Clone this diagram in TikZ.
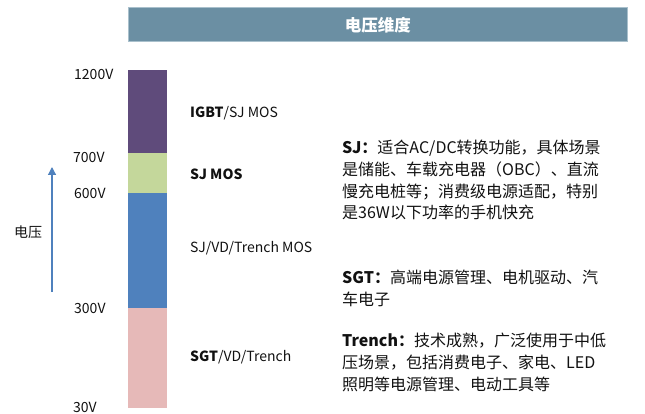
\documentclass[tikz,border=0pt]{standalone}
\usepackage{fontspec}
\setmainfont{Noto Sans CJK SC}
\usetikzlibrary{arrows.meta}
\definecolor{hdr}{HTML}{6B8FA3}
\definecolor{hdrline}{HTML}{A9C0CC}
\definecolor{segpurple}{HTML}{5F4B7B}
\definecolor{seggreen}{HTML}{C4D79B}
\definecolor{segblue}{HTML}{4F81BD}
\definecolor{segpink}{HTML}{E6B9B8}
\definecolor{txt}{HTML}{111111}
\tikzset{
  seg/.style={inner sep=0pt, outer sep=0pt, minimum width=39pt, anchor=north west, draw=none},
  vlabel/.style={anchor=west, inner sep=0pt, font=\fontsize{14}{16}\selectfont, text=txt},
  tlabel/.style={anchor=west, inner sep=0pt, font=\fontsize{14}{16}\selectfont, text=txt},
  para/.style={anchor=north west, inner sep=0pt, align=left, font=\fontsize{16}{21.7}\selectfont, text=txt},
}
\begin{document}
\begin{tikzpicture}[x=1pt,y=-1pt]
\useasboundingbox (0,0) rectangle (645,414);
% header
\node[draw=hdrline, fill=hdr, line width=0.6pt, minimum width=499pt, minimum height=34pt, inner sep=0pt, anchor=north west, text=white, font=\fontsize{16.5}{18}\selectfont\bfseries] (header) at (128,7.5) {电压维度};
% bar segments
\node[seg, fill=segpurple, minimum height=83pt] (s1) at (128,70) {};
\node[seg, fill=seggreen, minimum height=40pt] (s2) at (128,153) {};
\node[seg, fill=segblue, minimum height=115pt] (s3) at (128,193) {};
\node[seg, fill=segpink, minimum height=100pt] (s4) at (128,308) {};
% voltage labels
\node[vlabel] (v1200) at (74,74) {1200V};
\node[vlabel] (v700) at (73,157) {700V};
\node[vlabel] (v600) at (74,193) {600V};
\node[vlabel] (v300) at (74,308) {300V};
\node[vlabel] (v30) at (73,407) {30V};
% segment labels
\node[tlabel] (l1) at (190,113) {\textbf{IGBT}/SJ MOS};
\node[tlabel] (l2) at (190,174) {\textbf{SJ MOS}};
\node[tlabel] (l3) at (190,248) {SJ/VD/Trench MOS};
\node[tlabel] (l4) at (190,357) {\textbf{SGT}/VD/Trench};
% arrow
\coordinate (abot) at (52,292);
\coordinate (atop) at (52,167);
\draw[segblue, line width=1.2pt, -{Triangle[width=8pt,length=8pt]}] (abot) -- (atop);
\node[anchor=west, inner sep=0pt, font=\fontsize{14}{16}\selectfont, text=txt] (vy) at (14,232) {电压};
% paragraphs
\node[para] (pSJ) at (342,140) {\textbf{SJ：}适合AC/DC转换功能，具体场景\\是储能、车载充电器（OBC）、直流\\慢充电桩等；消费级电源适配，特别\\是36W以下功率的手机快充};
\node[para] (pSGT) at (342,270) {\textbf{SGT：}高端电源管理、电机驱动、汽\\车电子};
\node[para] (pTR) at (342,333) {\textbf{Trench：}技术成熟，广泛使用于中低\\压场景，包括消费电子、家电、LED\\照明等电源管理、电动工具等};
\end{tikzpicture}
\end{document}
